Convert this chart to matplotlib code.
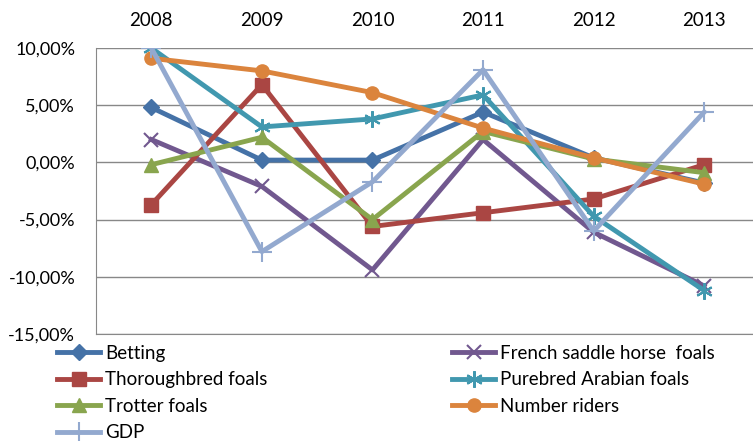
import matplotlib.pyplot as plt
from matplotlib.ticker import FuncFormatter

plt.rcParams['font.family'] = ['Lato', 'DejaVu Sans']

years = ['2008', '2009', '2010', '2011', '2012', '2013']

# growth rates in %
betting = [4.8, 0.2, 0.2, 4.4, 0.4, -1.8]
french_saddle = [2.0, -2.1, -9.4, 2.0, -6.1, -10.8]
thoroughbred = [-3.7, 6.8, -5.6, -4.4, -3.2, -0.2]
arabian = [10.0, 3.1, 3.8, 5.9, -4.7, -11.2]
trotter = [-0.2, 2.2, -5.0, 2.7, 0.3, -0.9]
riders = [9.1, 8.0, 6.1, 3.0, 0.4, -1.9]
gdp = [10.0, -7.8, -1.7, 8.1, -6.0, 4.4]

labels = ['Betting', 'French saddle horse  foals', 'Thoroughbred foals',
          'Purebred Arabian foals', 'Trotter foals', 'Number riders', 'GDP']
series = [betting, french_saddle, thoroughbred, arabian, trotter, riders, gdp]
colors = ['#4572A7', '#71588F', '#AA4643', '#4198AF', '#89A54E', '#DB843D', '#93A9CF']
markers = ['D', 'x', 's', (6, 2, 0), '^', 'o', '+']
msizes = [8.5, 10, 10.5, 12, 9.5, 9.5, 14]

fig = plt.figure(figsize=(7.53, 4.41), dpi=100)
ax = fig.add_axes([96 / 753, 1 - 334 / 441, (759.5 - 96) / 753, (334 - 48) / 441])

x = list(range(len(years)))
handles = []
for s, lab, c, m, ms in zip(series, labels, colors, markers, msizes):
    h, = ax.plot(x, s, color=c, lw=3.5, marker=m, markersize=ms,
                 markeredgewidth=1.5 if m in ('x', '+', (6, 2, 0)) else 1,
                 markeredgecolor=c, label=lab)
    handles.append(h)

ax.set_xlim(-0.5, 5.5)
ax.set_ylim(-15, 10)
ax.set_yticks([-15, -10, -5, 0, 5, 10])
ax.yaxis.set_major_formatter(FuncFormatter(lambda v, p: ('%.2f%%' % v).replace('.', ',')))
ax.set_xticks(x)
ax.set_xticklabels(years)
ax.xaxis.tick_top()
ax.tick_params(axis='x', length=0, pad=14, labelsize=13.5)
ax.tick_params(axis='y', length=0, labelsize=13, pad=15)
ax.grid(axis='y', color='#888888', lw=1)
ax.set_axisbelow(True)
for sp in ['top', 'right']:
    ax.spines[sp].set_visible(False)
ax.spines['left'].set_color('#888888')
ax.spines['bottom'].set_color('#888888')

# legend in two columns, placed separately
leg_kw = dict(loc='upper left', frameon=False, fontsize=13.5, handlelength=2.3,
              handletextpad=0.25, labelspacing=0.5, borderaxespad=0, borderpad=0)
left_col = [0, 2, 4, 6]
right_col = [1, 3, 5]
fig.legend([handles[i] for i in left_col], [labels[i] for i in left_col],
           bbox_to_anchor=(57 / 753, 1 - 345 / 441), **leg_kw)
fig.legend([handles[i] for i in right_col], [labels[i] for i in right_col],
           bbox_to_anchor=(452 / 753, 1 - 345 / 441), **leg_kw)

plt.savefig('out.png', dpi=100)
